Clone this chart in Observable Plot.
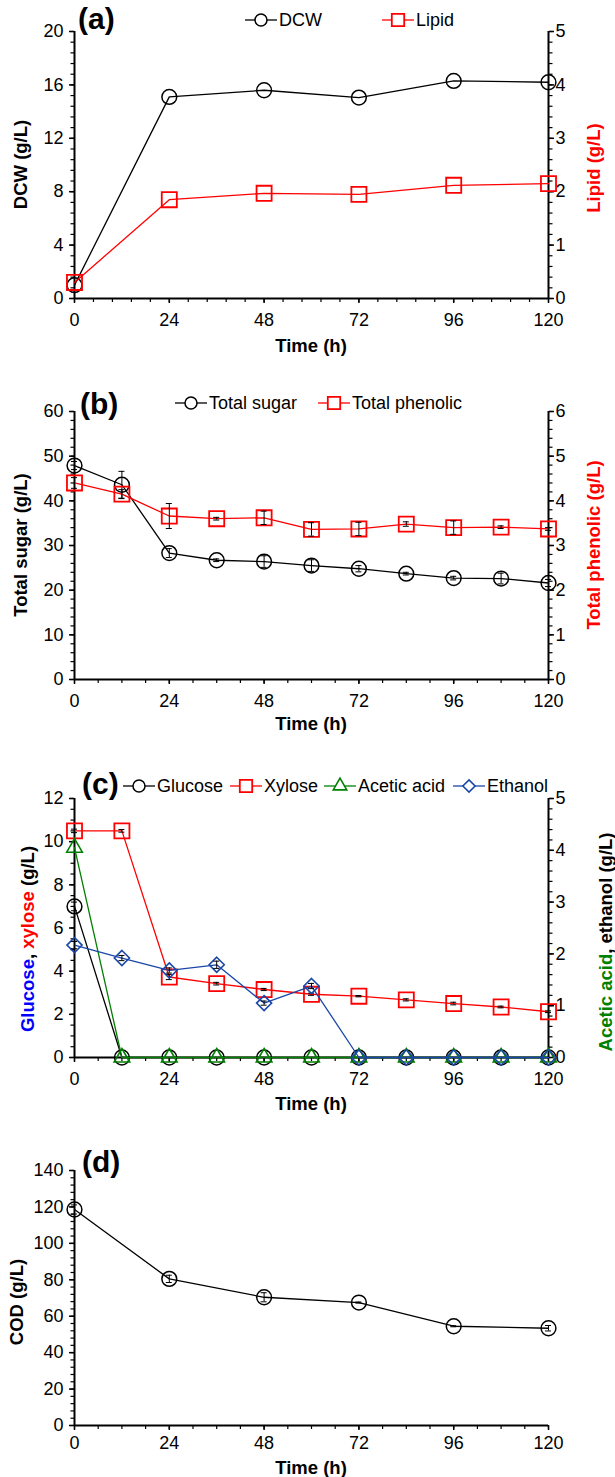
<!DOCTYPE html>
<html><head><meta charset="utf-8">
<script src="https://cdn.jsdelivr.net/npm/d3@7"></script>
<script src="https://cdn.jsdelivr.net/npm/@observablehq/plot@0.6"></script>
<style>
body{margin:0;background:#fff;}
#wrap{position:relative;width:615px;height:1477px;background:#fff;}
#wrap > svg{position:absolute;left:0;}
</style></head><body><div id="wrap"></div>
<script>
// ---------- DATA ----------
const xTicks = [0, 24, 48, 72, 96, 120];

// (a)
const timeA = [0, 24, 48, 72, 96, 120];
const dcw = [1.0, 15.1, 15.6, 15.05, 16.3, 16.2];
const lipid = [0.3, 1.85, 1.97, 1.95, 2.12, 2.15];

// (b)
const timeB = [0, 12, 24, 36, 48, 60, 72, 84, 96, 108, 120];
const totalSugar = [47.9, 43.6, 28.3, 26.7, 26.4, 25.5, 24.8, 23.7, 22.7, 22.6, 21.6];
const totalSugarErr = [0.9, 3.0, 1.0, 0.3, 1.3, 1.3, 0.7, 0.3, 0.4, 1.2, 0.8];
const totalPhenolic = [4.4, 4.15, 3.66, 3.6, 3.62, 3.36, 3.37, 3.48, 3.4, 3.41, 3.37];
const totalPhenolicErr = [0.12, 0.1, 0.28, 0.03, 0.15, 0.15, 0.15, 0.05, 0.15, 0.03, 0.03];

// (c)
const timeC = [0, 12, 24, 36, 48, 60, 72, 84, 96, 108, 120];
const glucose = [7.0, 0, 0, 0, 0, 0, 0, 0, 0, 0, 0];
const glucoseErr = [0.2, 0, 0, 0, 0, 0, 0, 0, 0, 0, 0];
const xylose = [10.5, 10.5, 3.73, 3.42, 3.15, 2.93, 2.84, 2.67, 2.5, 2.34, 2.12];
const xyloseErr = [0.08, 0.06, 0.12, 0.06, 0.05, 0.05, 0.03, 0.05, 0.06, 0.04, 0.04];
const aceticAcid = [4.05, 0, 0, 0, 0, 0, 0, 0, 0, 0, 0];
const ethanol = [2.17, 1.92, 1.68, 1.79, 1.05, 1.38, 0, 0, 0, 0, 0];
const ethanolErr = [0.07, 0.05, 0.05, 0.07, 0.04, 0.05, 0, 0, 0, 0, 0];

// (d)
const timeD = [0, 24, 48, 72, 96, 120];
const cod = [118.6, 80.5, 70.4, 67.5, 54.5, 53.4];
const codErr = [2.5, 2, 2.5, 0.3, 0.3, 1.5];

// ---------- DRAWING ----------
const FONT = '"Liberation Sans", Arial, Helvetica, sans-serif';
const W = 615, ML = 74, MR = 67;
const RED = "#ff0000", GREEN = "#008000", BLUE = "#1a47a8";
const symMap = {circle: d3.symbolCircle, square: d3.symbolSquare, triangle: d3.symbolTriangle, diamond2: d3.symbolDiamond2};
const wrap = document.getElementById("wrap");

function rng(a, b, s) { const out = []; for (let i = 0; a + i * s <= b + 1e-9; i++) out.push(+(a + i * s).toFixed(6)); return out; }

function panel(cfg) {
  const f = cfg.rMax ? cfg.yMax / cfg.rMax : 1;
  const marks = [];
  marks.push(Plot.axisX(rng(0, 120, cfg.xMinor), {tickSize: 4, tickFormat: () => "", label: null, strokeWidth: 1.2}));
  marks.push(Plot.axisX(xTicks, {tickSize: 5, tickPadding: cfg.xPad, label: null, strokeWidth: 1.5}));
  marks.push(Plot.axisY(rng(0, cfg.yMax, cfg.yMinor), {anchor: "left", tickSize: 3.5, tickFormat: () => "", label: null, strokeWidth: 1.2}));
  marks.push(Plot.axisY(rng(0, cfg.yMax, cfg.yStep), {anchor: "left", tickSize: 5, tickPadding: 6, label: null, strokeWidth: 1.5}));
  if (cfg.rMax) {
    marks.push(Plot.axisY(rng(0, cfg.rMax, cfg.rMinor).map(v => v * f), {anchor: "right", tickSize: 3.5, tickFormat: () => "", label: null, strokeWidth: 1.2}));
    marks.push(Plot.axisY(rng(0, cfg.rMax, cfg.rStep).map(v => v * f), {anchor: "right", tickSize: 5, tickPadding: 2, label: null, strokeWidth: 1.5,
      tickFormat: d => String(+(d / f).toFixed(4))}));
    marks.push(Plot.ruleX([120], {strokeWidth: 2}));
  }
  marks.push(Plot.ruleX([0], {strokeWidth: 2}));
  marks.push(Plot.ruleY([0], {strokeWidth: 2}));
  for (const s of cfg.series) {
    const k = s.axis === "right" ? f : 1;
    const rows = s.t.map((t, i) => ({t, v: s.v[i] * k, e: (s.e ? s.e[i] : 0) * k}));
    marks.push(Plot.line(rows, {x: "t", y: "v", stroke: s.color, strokeWidth: 1.3}));
    marks.push(Plot.dot(rows, {x: "t", y: "v", symbol: s.symbol, r: s.r, stroke: s.color, strokeWidth: s.sw, fill: "none"}));
    const er = rows.filter(d => d.e > 0);
    marks.push(Plot.ruleX(er, {x: "t", y1: d => d.v - d.e, y2: d => d.v + d.e, stroke: "black", strokeWidth: 1}));
    marks.push(Plot.ruleY(er, {x1: "t", x2: "t", y: d => d.v + d.e, insetLeft: -3, insetRight: -3, stroke: "black", strokeWidth: 1}));
    marks.push(Plot.ruleY(er, {x1: "t", x2: "t", y: d => d.v - d.e, insetLeft: -3, insetRight: -3, stroke: "black", strokeWidth: 1}));
  }
  const plot = Plot.plot({
    width: W, height: cfg.svgH,
    marginLeft: ML, marginRight: MR,
    marginTop: cfg.plotTop - cfg.svgTop, marginBottom: cfg.svgTop + cfg.svgH - cfg.plotBottom,
    x: {domain: [0, 120]},
    y: {domain: [0, cfg.yMax]},
    style: {fontSize: "18px", fontFamily: FONT, color: "black", background: "transparent", overflow: "visible"},
    marks
  });
  plot.style.top = cfg.svgTop + "px";
  wrap.appendChild(plot);
  const svg = d3.select(plot);
  const Y = y => y - cfg.svgTop;
  // panel label
  svg.append("text").attr("x", cfg.labelX).attr("y", Y(cfg.labelY)).attr("text-anchor", "start")
    .attr("font-size", 30).attr("font-weight", "bold").attr("fill", "black").text(cfg.label);
  // x title
  svg.append("text").attr("x", (ML + W - MR) / 2).attr("y", Y(cfg.xTitleY)).attr("text-anchor", "middle").attr("dominant-baseline", "central")
    .attr("font-size", 18.5).attr("font-weight", "bold").attr("fill", "black").text("Time (h)");
  // y titles
  const mid = (cfg.plotTop + cfg.plotBottom) / 2;
  function vtitle(x, y, parts) {
    const t = svg.append("text").attr("transform", `translate(${x},${Y(y)}) rotate(-90)`).attr("text-anchor", "middle")
      .attr("dominant-baseline", "central").attr("font-size", 18.5).attr("font-weight", "bold");
    for (const [txt, col] of parts) t.append("tspan").attr("fill", col).text(txt);
  }
  vtitle(cfg.leftTitleX, cfg.leftTitleY || mid, cfg.leftTitle);
  if (cfg.rightTitle) vtitle(cfg.rightTitleX, cfg.rightTitleY || mid, cfg.rightTitle);
  // legend
  for (const L of cfg.legend || []) {
    const y = Y(cfg.legendY);
    svg.append("line").attr("x1", L.x0).attr("x2", L.x1).attr("y1", y).attr("y2", y).attr("stroke", L.color).attr("stroke-width", 1.3);
    svg.append("path").attr("d", d3.symbol(symMap[L.symbol], Math.PI * L.r * L.r)()).attr("transform", `translate(${(L.x0 + L.x1) / 2},${y})`)
      .attr("fill", "white").attr("stroke", L.color).attr("stroke-width", L.sw);
    svg.append("text").attr("x", L.x1 + 2).attr("y", y).attr("text-anchor", "start").attr("dominant-baseline", "central")
      .attr("font-size", 18).attr("fill", "black").text(L.label);
  }
}

// (a)
panel({
  svgTop: 0, svgH: 370, plotTop: 31, plotBottom: 298,
  yMax: 20, yStep: 4, yMinor: 0.8, rMax: 5, rStep: 1, rMinor: 0.2, xMinor: 4.8, xPad: 10,
  series: [
    {t: timeA, v: dcw, color: "black", symbol: "circle", r: 7.4, sw: 1.5},
    {t: timeA, v: lipid, axis: "right", color: RED, symbol: "square", r: 8.5, sw: 1.8}
  ],
  label: "(a)", labelX: 78, labelY: 29, xTitleY: 345,
  leftTitle: [["DCW (g/L)", "black"]], leftTitleX: 20,
  rightTitle: [["Lipid (g/L)", RED]], rightTitleX: 593, rightTitleY: 168,
  legendY: 20,
  legend: [
    {x0: 245, x1: 277, color: "black", symbol: "circle", r: 6, sw: 1.5, label: "DCW"},
    {x0: 382, x1: 414, color: RED, symbol: "square", r: 7, sw: 1.8, label: "Lipid"}
  ]
});

// (b)
panel({
  svgTop: 370, svgH: 365, plotTop: 411, plotBottom: 679,
  yMax: 60, yStep: 10, yMinor: 2, rMax: 6, rStep: 1, rMinor: 0.2, xMinor: 6, xPad: 10,
  series: [
    {t: timeB, v: totalSugar, e: totalSugarErr, color: "black", symbol: "circle", r: 7.4, sw: 1.5},
    {t: timeB, v: totalPhenolic, e: totalPhenolicErr, axis: "right", color: RED, symbol: "square", r: 8.5, sw: 1.8}
  ],
  label: "(b)", labelX: 80, labelY: 414, xTitleY: 723,
  leftTitle: [["Total sugar (g/L)", "black"]], leftTitleX: 20,
  rightTitle: [["Total phenolic (g/L)", RED]], rightTitleX: 593,
  legendY: 403,
  legend: [
    {x0: 175, x1: 207, color: "black", symbol: "circle", r: 6, sw: 1.5, label: "Total sugar"},
    {x0: 318, x1: 350, color: RED, symbol: "square", r: 7, sw: 1.8, label: "Total phenolic"}
  ]
});

// (c)
panel({
  svgTop: 735, svgH: 365, plotTop: 798, plotBottom: 1057,
  yMax: 12, yStep: 2, yMinor: 0.5, rMax: 5, rStep: 1, rMinor: 0.2, xMinor: 6, xPad: 10,
  series: [
    {t: timeC, v: glucose, e: glucoseErr, color: "black", symbol: "circle", r: 7.4, sw: 1.5},
    {t: timeC, v: xylose, e: xyloseErr, color: RED, symbol: "square", r: 8.5, sw: 1.8},
    {t: timeC, v: aceticAcid, axis: "right", color: GREEN, symbol: "triangle", r: 5.8, sw: 1.6},
    {t: timeC, v: ethanol, e: ethanolErr, axis: "right", color: BLUE, symbol: "diamond2", r: 6.8, sw: 1.6}
  ],
  label: "(c)", labelX: 82, labelY: 794, xTitleY: 1103,
  leftTitle: [["Glucose", "#0000ff"], [", ", "black"], ["xylose", RED], [" (g/L)", "black"]], leftTitleX: 27, leftTitleY: 939,
  rightTitle: [["Acetic acid", GREEN], [", ethanol (g/L)", "black"]], rightTitleX: 605, rightTitleY: 942,
  legendY: 786,
  legend: [
    {x0: 123, x1: 155, color: "black", symbol: "circle", r: 6, sw: 1.5, label: "Glucose"},
    {x0: 230, x1: 262, color: RED, symbol: "square", r: 7, sw: 1.8, label: "Xylose"},
    {x0: 324, x1: 356, color: GREEN, symbol: "triangle", r: 5, sw: 1.6, label: "Acetic acid"},
    {x0: 453, x1: 485, color: BLUE, symbol: "diamond2", r: 5.5, sw: 1.6, label: "Ethanol"}
  ]
});

// (d)
panel({
  svgTop: 1100, svgH: 377, plotTop: 1170, plotBottom: 1425,
  yMax: 140, yStep: 20, yMinor: 4, xMinor: 6, xPad: 6,
  series: [
    {t: timeD, v: cod, e: codErr, color: "black", symbol: "circle", r: 7.4, sw: 1.5}
  ],
  label: "(d)", labelX: 82, labelY: 1172, xTitleY: 1467,
  leftTitle: [["COD (g/L)", "black"]], leftTitleX: 16, leftTitleY: 1302
});
</script>
</body></html>
